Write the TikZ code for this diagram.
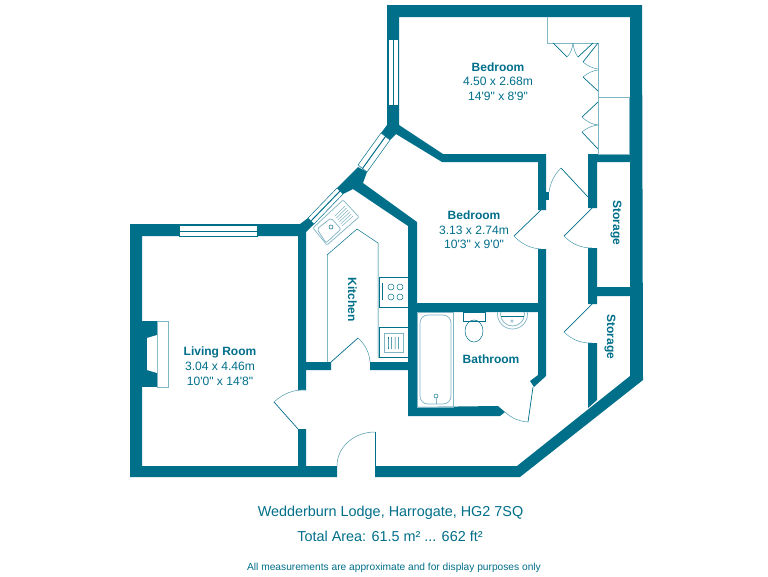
\documentclass[tikz,border=0pt]{standalone}
\usepackage{fontspec}
\setmainfont{Liberation Sans}
\newfontfamily\plainf{Liberation Sans}
\usetikzlibrary{calc}
\definecolor{wallc}{HTML}{006F8A}
\definecolor{lightc}{HTML}{7FB5C4}
\newcommand\swingarc[3]{%
  \draw[arcl] (#1) .. controls ($(#1)!.667!(#3)$) and ($(#2)!.667!(#3)$) .. (#2);}
\newcommand\doorleaf[4]{%
  \draw[leaf] (#1) -- (#2);
  \swingarc{#2}{#3}{#4}}
\tikzset{
  wall/.style={fill=wallc,draw=none},
  leaf/.style={draw=wallc,line width=.7pt},
  arcl/.style={draw=wallc!70!white,line width=.5pt},
  fine/.style={draw=wallc,line width=.5pt},
  pale/.style={draw=lightc,line width=.7pt},
  win/.style={fill=white,draw=wallc,line width=.5pt},
  roomb/.style={text=wallc,font=\plainf\fontsize{12}{14}\selectfont\bfseries,inner sep=0pt},
  roomt/.style={text=wallc,font=\plainf\fontsize{12.1}{14}\selectfont,inner sep=0pt},
  foot/.style={text=wallc,font=\plainf\fontsize{14.4}{16}\selectfont,inner sep=0pt},
  small/.style={text=wallc,font=\plainf\fontsize{10.2}{12}\selectfont,inner sep=0pt},
}
\begin{document}
\begin{tikzpicture}[x=1pt,y=-1pt]
\useasboundingbox[fill=white] (0,0) rectangle (768,576);
% walls
\fill[wall] (387,5)--(642,5)--(643,380)--(520,477)--(375,477)--(375,466)--(517,466)--(630,376)--(630,17)--(399,17)--(399,125)--(443,154)--(546,154)--(546,210)--(538,210)--(538,162)--(442,162)--(396,134)--(390,140)--(381,133)--(387,125)--cycle;
\fill[wall] (588,154)--(630,154)--(630,162)--(597,162)--(597,208)--(588,208)--cycle;
\fill[wall] (588,248)--(597,248)--(597,287)--(630,287)--(630,296)--(597,296)--(597,304)--(588,304)--cycle;
\fill[wall] (588,343)--(597,343)--(597,400)--(588,408)--cycle;
\fill[wall] (538,249)--(546,249)--(546,376)--(534,387)--(530,381)--(538,375)--(538,312)--(417,312)--(417,407)--(498,406)--(505,412)--(500,416)--(408,416)--(408,370)--(370,370)--(370,362)--(408,362)--(408,226)--(353,189)--(343,194)--(337,188)--(348,177)--(358,167)--(367,172)--(363,183)--(417,222)--(417,303)--(538,303)--cycle;
\fill[wall] (130,224)--(300,224)--(308,218)--(314,224)--(306,232)--(306,362)--(331,362)--(331,370)--(306,370)--(306,390)--(298,390)--(298,236)--(142,236)--(142,466)--(298,466)--(298,429)--(306,429)--(306,466)--(337,466)--(337,477)--(130,477)--cycle;
\fill[wall] (546,192) rectangle (549,200);
% windows
\draw[win] (388,39) rectangle (398.5,105);
\draw[wallc,line width=1pt] (393,39)--(393,105);
\draw[win] (179,225) rectangle (257,236);
\draw[wallc,line width=1pt] (179,231)--(257,231);
\draw[win] (381,133)--(390,140)--(367,172)--(358,165)--cycle;
\draw[wallc,line width=1pt] (385.5,136.5)--(362.5,168.5);
\draw[win] (337,188)--(343,194)--(314,224)--(308,218)--cycle;
\draw[wallc,line width=1pt] (340,191)--(311,221);
% fireplace
\fill[wall] (142,321) rectangle (157,387);
\draw[pale,fill=white] (157,321) rectangle (168.5,387);
\fill[white] (147,338)--(157,335)--(157,373)--(147,370)--cycle;
% wardrobe
\draw[pale] (547,17)--(547,43)--(598,43)--(598,154);
\draw[pale] (598,97)--(629,97)--(629,154)--(598,154);
\draw[leaf] (553,43)--(567,57);
\swingarc{567,57}{573,43}{572,52}
\swingarc{573,43}{578,57}{574,52}
\draw[leaf] (578,57)--(593,43);
\draw[leaf] (598,43)--(583,62);
\swingarc{583,62}{598,69}{590,68}
\swingarc{598,70}{583,77}{590,71}
\draw[leaf] (583,77)--(598,91);
\draw[leaf] (598,102)--(582,117);
\swingarc{582,117}{598,125}{589,124}
\swingarc{598,125}{582,132}{589,126}
\draw[leaf] (582,132)--(598,149);
% doors
\draw[leaf] (375,466)--(375,432);
\draw[arcl] (375,432) .. controls (354,432) and (337,447) .. (337,466);
\doorleaf{298,429}{274,402}{306,390}{288,389}
\doorleaf{331,362}{358,338}{370,362}{369,348}
\doorleaf{588,197}{561,168}{549,192}{551,178}
\doorleaf{541,210}{514,236}{541,249}{525,248}
\doorleaf{592,208}{564,236}{592,248}{575.5,248}
\doorleaf{592,304}{564,332}{592,343}{575.5,343.5}
\doorleaf{533,387}{528,422}{505,412}{514.4,421}
% kitchen counter
\draw[pale] (327,362)--(327,255);
\draw[fine] (327,255)--(357,229)--(378,243)--(378,357);
\draw[pale] (378,357)--(408,357);
\draw[fine] (379,277) rectangle (408,307);
\foreach \cx/\cy in {391/287,400/287,391/297,400/297}{\draw[fine] (\cx,\cy) circle (3);}
\draw[fine] (382,283)--(382,300);
\draw[fine] (379,327) rectangle (408,357);
\draw[pale] (384,333) rectangle (403,352);
\foreach \wx in {388,391.5,395,398.5}{
  \draw[fine] (\wx,337) .. controls (\wx-1.5,340) and (\wx+1.5,342) .. (\wx,344) .. controls (\wx-1,346) and (\wx+1,347) .. (\wx,349);}
% sink
\draw[pale,rounded corners=1pt] (343,200)--(359,217)--(327,245)--(313,228)--cycle;
\draw[pale,rounded corners=2pt] (317,229)--(331,218)--(341,229)--(326,243)--cycle;
\draw[fine] (331,227) circle (2);
\foreach \t in {0,.2,.4,.6,.8,1}{
  \draw[pale,line width=.5pt] ($(335,216)!\t!(342,226)$) -- ($(345,206)!\t!(353,216)$);}
% bath
\draw[pale] (417,312) rectangle (453,407);
\draw[pale,rounded corners=8pt] (420,315) rectangle (451,404);
\draw[fine] (436,396) circle (2);
\draw[pale] (436,398)--(436,404);
% toilet
\draw[fine] (463,312) rectangle (485,321);
\draw[fine] (474,331) ellipse (9 and 11);
% basin
\begin{scope}
\clip (490,312) rectangle (535,335);
\draw[pale] (512.5,314) circle (15);
\draw[pale] (512.5,314) circle (12);
\end{scope}
\draw[fine] (501,316)--(524,316);
\draw[pale,line width=.5pt] (512,321) circle (1.3);
% labels
\node[roomb] (bed1a) at (498,67) {Bedroom};
\node[roomt] (bed1b) at (498,81.5) {4.50 x 2.68m};
\node[roomt] (bed1c) at (498,96) {14'9" x 8'9"};
\node[roomb] (bed2a) at (474,215.5) {Bedroom};
\node[roomt] (bed2b) at (474,230) {3.13 x 2.74m};
\node[roomt] (bed2c) at (474,244.5) {10'3" x 9'0"};
\node[roomb] (lra) at (220,352) {Living Room};
\node[roomt] (lrb) at (220,366.5) {3.04 x 4.46m};
\node[roomt] (lrc) at (220,381) {10'0" x 14'8"};
\node[roomb] (bath) at (491,359) {Bathroom};
\node[roomb,rotate=-90] (kit) at (352.5,299.5) {Kitchen};
\node[roomb,rotate=-90] (st1) at (616,223) {Storage};
\node[roomb,rotate=-90] (st2) at (610,337) {Storage};
\node[foot] (f1) at (390.5,513) {Wedderburn Lodge, Harrogate, HG2 7SQ};
\node[foot] (f2) at (390,536) {Total Area: 61.5 m² ... 662 ft²};
\node[small] (f3) at (394,568) {All measurements are approximate and for display purposes only};
\end{tikzpicture}
\end{document}
